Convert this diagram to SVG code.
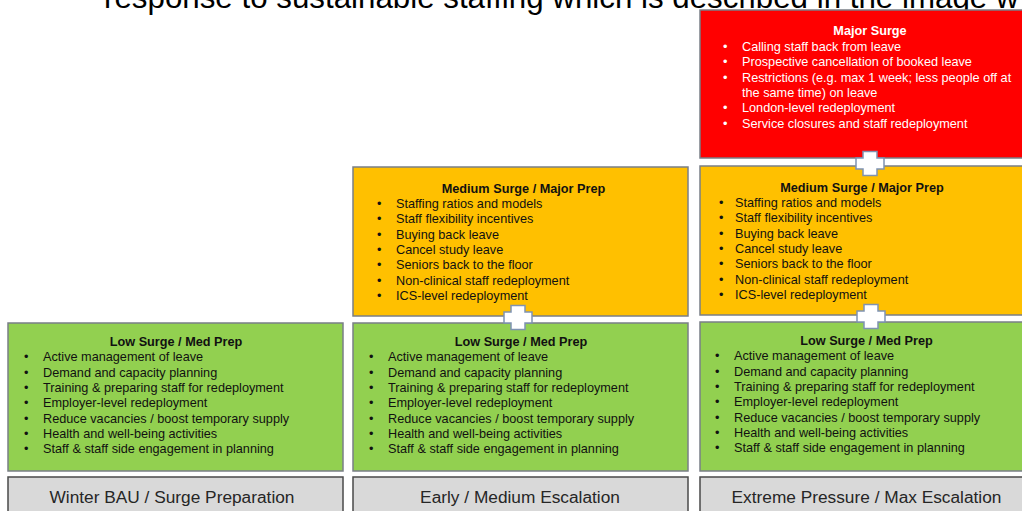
<svg xmlns="http://www.w3.org/2000/svg" width="1022" height="511" viewBox="0 0 1022 511">
<style>
  text { font-family: "Liberation Sans", Arial, sans-serif; }
  .box { stroke: #7a7f87; stroke-width: 1.5; }
  .green { fill: #92d050; }
  .yellow { fill: #ffc000; }
  .red { fill: #ff0000; }
  .grey { fill: #d9d9d9; stroke: #4a4a4a; stroke-width: 1.5; }
  .h { font-size: 12.7px; font-weight: bold; text-anchor: middle; fill: #111; }
  .t { font-size: 12.7px; fill: #111; }
  .hw { font-size: 12.7px; font-weight: bold; text-anchor: middle; fill: #fff; }
  .tw { font-size: 12.7px; fill: #fff; }
  .lbl { font-size: 17.3px; text-anchor: middle; fill: #262626; }
  .title { font-size: 31.3px; fill: #000; }
  .plus { fill: #fff; stroke: #7f93b2; stroke-width: 1.5; }
</style>
<defs>
  <path id="plus" d="M-7,-12 H7 V-5.5 H14 V5.5 H7 V12 H-7 V5.5 H-14 V-5.5 H-7 Z"/>
</defs>
<rect x="0" y="0" width="1022" height="511" fill="#fff"/>

<text class="title" x="104" y="8">response to sustainable staffing which is described in the image w</text>

<!-- Left column -->
<g id="low-left">
  <rect class="box green" x="8" y="323" width="335" height="148"/>
  <text class="h" x="176" y="346">Low Surge / Med Prep</text>
  <text class="t" x="24" y="361.3">•</text><text class="t" x="43" y="361.3">Active management of leave</text>
  <text class="t" x="24" y="376.6">•</text><text class="t" x="43" y="376.6">Demand and capacity planning</text>
  <text class="t" x="24" y="391.9">•</text><text class="t" x="43" y="391.9">Training &amp; preparing staff for redeployment</text>
  <text class="t" x="24" y="407.2">•</text><text class="t" x="43" y="407.2">Employer-level redeployment</text>
  <text class="t" x="24" y="422.5">•</text><text class="t" x="43" y="422.5">Reduce vacancies / boost temporary supply</text>
  <text class="t" x="24" y="437.8">•</text><text class="t" x="43" y="437.8">Health and well-being activities</text>
  <text class="t" x="24" y="453.1">•</text><text class="t" x="43" y="453.1">Staff &amp; staff side engagement in planning</text>
</g>
<g id="label-left">
  <rect class="grey" x="8" y="477" width="335" height="45"/>
  <text class="lbl" x="172" y="503">Winter BAU / Surge Preparation</text>
</g>

<!-- Middle column -->
<g id="medium-middle">
  <rect class="box yellow" x="353" y="167" width="335" height="149"/>
  <text class="h" x="523.5" y="193">Medium Surge / Major Prep</text>
  <text class="t" x="377" y="208">•</text><text class="t" x="396" y="208">Staffing ratios and models</text>
  <text class="t" x="377" y="223.3">•</text><text class="t" x="396" y="223.3">Staff flexibility incentives</text>
  <text class="t" x="377" y="238.6">•</text><text class="t" x="396" y="238.6">Buying back leave</text>
  <text class="t" x="377" y="253.9">•</text><text class="t" x="396" y="253.9">Cancel study leave</text>
  <text class="t" x="377" y="269.2">•</text><text class="t" x="396" y="269.2">Seniors back to the floor</text>
  <text class="t" x="377" y="284.5">•</text><text class="t" x="396" y="284.5">Non-clinical staff redeployment</text>
  <text class="t" x="377" y="299.8">•</text><text class="t" x="396" y="299.8">ICS-level redeployment</text>
</g>
<g id="low-middle">
  <rect class="box green" x="353" y="323" width="335" height="148"/>
  <text class="h" x="521" y="346">Low Surge / Med Prep</text>
  <text class="t" x="369" y="361.3">•</text><text class="t" x="388" y="361.3">Active management of leave</text>
  <text class="t" x="369" y="376.6">•</text><text class="t" x="388" y="376.6">Demand and capacity planning</text>
  <text class="t" x="369" y="391.9">•</text><text class="t" x="388" y="391.9">Training &amp; preparing staff for redeployment</text>
  <text class="t" x="369" y="407.2">•</text><text class="t" x="388" y="407.2">Employer-level redeployment</text>
  <text class="t" x="369" y="422.5">•</text><text class="t" x="388" y="422.5">Reduce vacancies / boost temporary supply</text>
  <text class="t" x="369" y="437.8">•</text><text class="t" x="388" y="437.8">Health and well-being activities</text>
  <text class="t" x="369" y="453.1">•</text><text class="t" x="388" y="453.1">Staff &amp; staff side engagement in planning</text>
</g>
<g id="label-middle">
  <rect class="grey" x="353" y="477" width="335" height="45"/>
  <text class="lbl" x="520" y="503">Early / Medium Escalation</text>
</g>

<!-- Right column -->
<g id="major-right">
  <rect class="box red" x="700" y="10" width="335" height="148"/>
  <text class="hw" x="870" y="35">Major Surge</text>
  <text class="tw" x="723" y="51">•</text><text class="tw" x="742" y="51">Calling staff back from leave</text>
  <text class="tw" x="723" y="66.3">•</text><text class="tw" x="742" y="66.3">Prospective cancellation of booked leave</text>
  <text class="tw" x="723" y="81.6">•</text><text class="tw" x="742" y="81.6">Restrictions (e.g. max 1 week; less people off at</text>
  <text class="tw" x="742" y="96.9">the same time) on leave</text>
  <text class="tw" x="723" y="112.2">•</text><text class="tw" x="742" y="112.2">London-level redeployment</text>
  <text class="tw" x="723" y="127.5">•</text><text class="tw" x="742" y="127.5">Service closures and staff redeployment</text>
</g>
<g id="medium-right">
  <rect class="box yellow" x="700" y="166" width="335" height="149"/>
  <text class="h" x="862" y="192">Medium Surge / Major Prep</text>
  <text class="t" x="719" y="207">•</text><text class="t" x="735" y="207">Staffing ratios and models</text>
  <text class="t" x="719" y="222.3">•</text><text class="t" x="735" y="222.3">Staff flexibility incentives</text>
  <text class="t" x="719" y="237.6">•</text><text class="t" x="735" y="237.6">Buying back leave</text>
  <text class="t" x="719" y="252.9">•</text><text class="t" x="735" y="252.9">Cancel study leave</text>
  <text class="t" x="719" y="268.2">•</text><text class="t" x="735" y="268.2">Seniors back to the floor</text>
  <text class="t" x="719" y="283.5">•</text><text class="t" x="735" y="283.5">Non-clinical staff redeployment</text>
  <text class="t" x="719" y="298.8">•</text><text class="t" x="735" y="298.8">ICS-level redeployment</text>
</g>
<g id="low-right">
  <rect class="box green" x="700" y="322" width="335" height="149"/>
  <text class="h" x="866.5" y="345">Low Surge / Med Prep</text>
  <text class="t" x="715" y="360.3">•</text><text class="t" x="734" y="360.3">Active management of leave</text>
  <text class="t" x="715" y="375.6">•</text><text class="t" x="734" y="375.6">Demand and capacity planning</text>
  <text class="t" x="715" y="390.9">•</text><text class="t" x="734" y="390.9">Training &amp; preparing staff for redeployment</text>
  <text class="t" x="715" y="406.2">•</text><text class="t" x="734" y="406.2">Employer-level redeployment</text>
  <text class="t" x="715" y="421.5">•</text><text class="t" x="734" y="421.5">Reduce vacancies / boost temporary supply</text>
  <text class="t" x="715" y="436.8">•</text><text class="t" x="734" y="436.8">Health and well-being activities</text>
  <text class="t" x="715" y="452.1">•</text><text class="t" x="734" y="452.1">Staff &amp; staff side engagement in planning</text>
</g>
<g id="label-right">
  <rect class="grey" x="700" y="477" width="335" height="45"/>
  <text class="lbl" x="866.5" y="503">Extreme Pressure / Max Escalation</text>
</g>

<!-- Connectors (plus joints) -->
<g id="connectors">
  <use href="#plus" class="plus" transform="translate(518,317.5)"/>
  <use href="#plus" class="plus" transform="translate(870,163.5)"/>
  <use href="#plus" class="plus" transform="translate(871,316.5)"/>
</g>
</svg>
